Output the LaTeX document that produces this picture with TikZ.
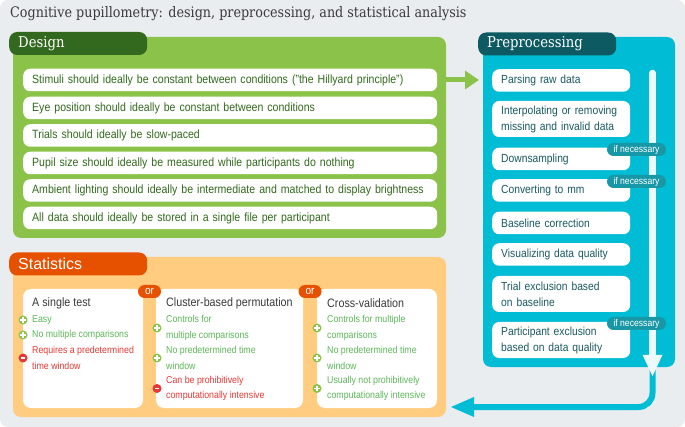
\documentclass[tikz,border=0pt]{standalone}
\usepackage{fontspec}
\setmainfont{Liberation Sans}[FakeStretch=0.88]
\newfontfamily\slabfont{DejaVu Serif}[FakeStretch=0.88]
\newfontfamily\widesans{Liberation Sans}
\usetikzlibrary{arrows.meta, positioning}
\definecolor{bgGray}{HTML}{E9EDF0}
\definecolor{titleGray}{HTML}{3A3A3A}
\definecolor{desGreen}{HTML}{8BC34A}
\definecolor{desDark}{HTML}{33691E}
\definecolor{preCyan}{HTML}{00BCD4}
\definecolor{preDark}{HTML}{0E5A62}
\definecolor{preText}{HTML}{1B5961}
\definecolor{preTag}{HTML}{1897A6}
\definecolor{statOrange}{HTML}{FFCC80}
\definecolor{statDark}{HTML}{E65100}
\definecolor{proGreen}{HTML}{5DB65A}
\definecolor{conRed}{HTML}{E53935}
\tikzset{PanelStyle/.style = {
			shape          = rectangle,
			rounded corners= 8pt,
			anchor         = north west,
			inner sep      = 0pt,
			outer sep      = 0pt}
			}
\tikzset{TabStyle/.style = {
			shape          = rectangle,
			rounded corners= 8pt,
			anchor         = west,
			inner xsep     = 9pt,
			inner ysep     = 0pt,
			minimum height = 23pt,
			text width     = 120pt,
			align          = left,
			text           = white,
			font           = \slabfont\fontsize{15}{17}\selectfont}
			}
\tikzset{RowStyle/.style = {
			shape          = rectangle,
			rounded corners= 7pt,
			fill           = white,
			anchor         = west,
			inner xsep     = 9pt,
			inner ysep     = 0pt,
			minimum height = 22.5pt,
			align          = left}
			}
\tikzset{DesignRowStyle/.style = {RowStyle,
			text width     = 396pt,
			text           = desDark,
			font           = \fontsize{12}{14}\selectfont}
			}
\tikzset{PrepRowStyle/.style = {RowStyle,
			text width     = 120pt,
			text           = preText,
			font           = \fontsize{11.7}{16}\selectfont}
			}
\tikzset{TagStyle/.style = {
			shape          = rectangle,
			rounded corners= 6.5pt,
			fill           = preTag,
			minimum width  = 59pt,
			minimum height = 13pt,
			inner sep      = 0pt,
			text           = white,
			font           = \fontsize{9.8}{10}\selectfont}
			}
\tikzset{OrStyle/.style = {TagStyle,
			fill           = statDark,
			minimum width  = 23pt,
			font           = \fontsize{11.5}{12}\selectfont}
			}
\tikzset{CardTitleStyle/.style = {
			anchor         = west,
			inner sep      = 0pt,
			text           = titleGray,
			font           = \fontsize{12.2}{14}\selectfont}
			}
\tikzset{ProStyle/.style = {
			anchor         = west,
			inner sep      = 0pt,
			align          = left,
			text           = proGreen,
			font           = \fontsize{10}{15.2}\selectfont}
			}
\tikzset{ConStyle/.style = {ProStyle, text = conRed}}
\tikzset{PlusStyle/.style = {
			shape          = circle,
			fill           = desGreen,
			minimum size   = 9pt,
			inner sep      = 0pt,
			path picture   = {
				\draw[white, line width=1.3pt]
					([xshift=-2.6pt]path picture bounding box.center) -- ([xshift=2.6pt]path picture bounding box.center)
					([yshift=-2.6pt]path picture bounding box.center) -- ([yshift=2.6pt]path picture bounding box.center);}}
			}
\tikzset{MinusStyle/.style = {
			shape          = circle,
			fill           = conRed,
			minimum size   = 9pt,
			inner sep      = 0pt,
			path picture   = {
				\draw[white, line width=1.3pt]
					([xshift=-2.2pt]path picture bounding box.center) -- ([xshift=2.2pt]path picture bounding box.center);}}
			}
\tikzset{GreenArrowStyle/.style = {draw = desGreen, line width = 5pt, -{Triangle[width=18pt,length=14pt]}}}
\tikzset{CyanArrowStyle/.style  = {draw = preCyan, line width = 6pt, rounded corners = 14pt, -{Triangle[width=18pt,length=24pt]}}}
\tikzset{BarStyle/.style        = {draw = white!93!preCyan, line width = 6.5pt, line cap = round, -{Triangle[width=18pt,length=22pt]}}}

\begin{document}
\begin{tikzpicture}[x=1pt,y=-1pt]
	\useasboundingbox (0,0) rectangle (685,427);
	\fill[bgGray, rounded corners=8pt] (0,0) rectangle (685,427);

	\draw (10,14) node[anchor=west, inner sep=0pt, text=titleGray, font=\slabfont\fontsize{14.5}{16}\selectfont] (title)
		{Cognitive pupillometry: design, preprocessing, and statistical analysis};

	\draw (13,37) node[PanelStyle, fill=desGreen, minimum width=433pt, minimum height=201pt] (D) {};
	\draw (9,43.5) node[TabStyle, fill=desDark] (Dtab) {Design};
	\draw (23,80)    node[DesignRowStyle] (d1) {Stimuli should ideally be constant between conditions ("the Hillyard principle")};
	\draw (23,108)   node[DesignRowStyle] (d2) {Eye position should ideally be constant between conditions};
	\draw (23,135.5) node[DesignRowStyle] (d3) {Trials should ideally be slow-paced};
	\draw (23,163)   node[DesignRowStyle] (d4) {Pupil size should ideally be measured while participants do nothing};
	\draw (23,190.5) node[DesignRowStyle] (d5) {Ambient lighting should ideally be intermediate and matched to display brightness};
	\draw (23,218)   node[DesignRowStyle] (d6) {All data should ideally be stored in a single file per participant};

	\draw (483,37) node[PanelStyle, fill=preCyan, minimum width=192pt, minimum height=330pt] (P) {};
	\draw (478,44) node[TabStyle, fill=preDark] (Ptab) {Preprocessing};
	\draw (492,80.5)  node[PrepRowStyle] (p1) {Parsing raw data};
	\draw (492,119)   node[PrepRowStyle, minimum height=36pt] (p2) {Interpolating or removing\\missing and invalid data};
	\draw (492,159)   node[PrepRowStyle] (p3) {Downsampling};
	\draw (492,190.5) node[PrepRowStyle] (p4) {Converting to mm};
	\draw (492,223)   node[PrepRowStyle] (p5) {Baseline correction};
	\draw (492,254.5) node[PrepRowStyle] (p6) {Visualizing data quality};
	\draw (492,294)   node[PrepRowStyle, minimum height=36pt] (p7) {Trial exclusion based\\on baseline};
	\draw (492,340)   node[PrepRowStyle, minimum height=36pt] (p8) {Participant exclusion\\based on data quality};

	\coordinate (barTop) at (652.5,73);
	\coordinate (barEnd) at (652.5,377);
	\coordinate (barOut) at (652.5,367);
	\coordinate (statIn) at (450,407);
	\draw[CyanArrowStyle] (barOut) |- (statIn);
	\draw[BarStyle] (barTop) -- (barEnd);

	\draw (636.5,149.5) node[TagStyle] (t3) {if necessary};
	\draw (636.5,181.5) node[TagStyle] (t4) {if necessary};
	\draw (636.5,323.5) node[TagStyle] (t8) {if necessary};

	\draw[GreenArrowStyle, shorten >=4pt] (D.east |- d1) -- (P.west |- d1);

	\draw (13,257) node[PanelStyle, fill=statOrange, minimum width=433pt, minimum height=160pt] (S) {};
	\draw (9,264) node[TabStyle, fill=statDark, font=\widesans\fontsize{16}{18}\selectfont] (Stab) {Statistics};

	\draw (23,289)  node[PanelStyle, fill=white, minimum width=120pt, minimum height=119pt] (c1) {};
	\draw (156,289) node[PanelStyle, fill=white, minimum width=147pt, minimum height=119pt] (c2) {};
	\draw (317,289) node[PanelStyle, fill=white, minimum width=120pt, minimum height=119pt] (c3) {};
	\draw (149.5,291.5) node[OrStyle] (or1) {or};
	\draw (310,291.5)   node[OrStyle] (or2) {or};

	\draw (32,303) node[CardTitleStyle] (c1t) {A single test};
	\draw (32,320) node[ProStyle] (c1a) {Easy};
	\draw (32,335) node[ProStyle] (c1b) {No multiple comparisons};
	\draw (32,358) node[ConStyle] (c1c) {Requires a predetermined\\time window};
	\draw (23,320) node[PlusStyle]  {};
	\draw (23,335) node[PlusStyle]  {};
	\draw (23,358) node[MinusStyle] {};

	\draw (166,303)   node[CardTitleStyle] (c2t) {Cluster-based permutation};
	\draw (166,328)   node[ProStyle] (c2a) {Controls for\\multiple comparisons};
	\draw (166,358)   node[ProStyle] (c2b) {No predetermined time\\window};
	\draw (166,388.5) node[ConStyle] (c2c) {Can be prohibitively\\computationally intensive};
	\draw (157,328)   node[PlusStyle]  {};
	\draw (157,358)   node[PlusStyle]  {};
	\draw (157,388.5) node[MinusStyle] {};

	\draw (327,303)   node[CardTitleStyle] (c3t) {Cross-validation};
	\draw (327,328)   node[ProStyle] (c3a) {Controls for multiple\\comparisons};
	\draw (327,358)   node[ProStyle] (c3b) {No predetermined time\\window};
	\draw (327,388.5) node[ProStyle] (c3c) {Usually not prohibitively\\computationally intensive};
	\draw (317,328)   node[PlusStyle] {};
	\draw (317,358)   node[PlusStyle] {};
	\draw (317,388.5) node[PlusStyle] {};
\end{tikzpicture}
\end{document}
